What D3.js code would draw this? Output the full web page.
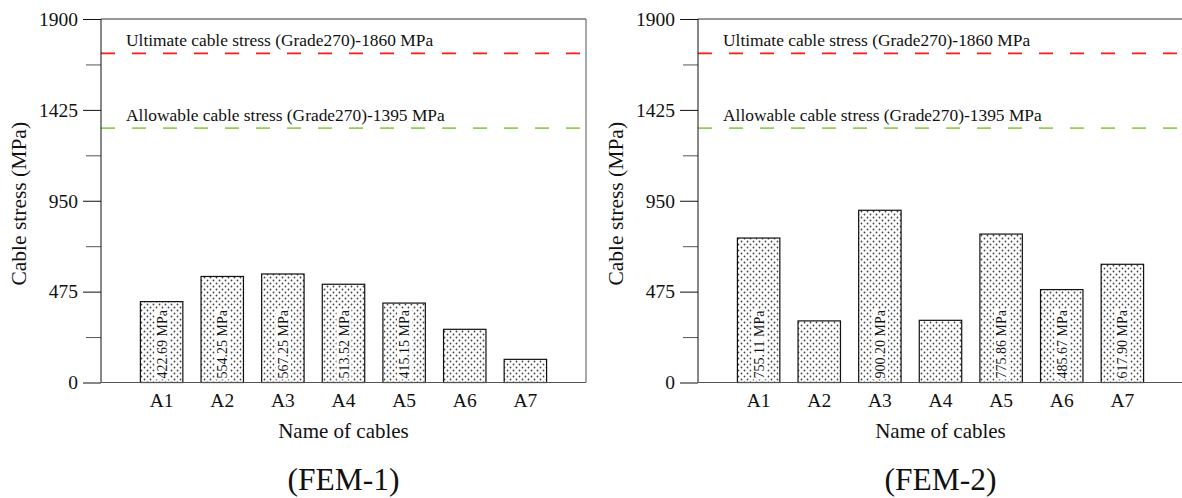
<!DOCTYPE html>
<html>
<head>
<meta charset="utf-8">
<script src="https://cdn.jsdelivr.net/npm/d3@7"></script>
<style>
  body { margin: 0; background: #fff; }
  svg { display: block; }
  svg text { font-family: "Liberation Serif", "Times New Roman", serif; }
</style>
</head>
<body>
<div id="chart"></div>
<script>
// data
const cables = ["A1", "A2", "A3", "A4", "A5", "A6", "A7"];
const fem1Values = [422.69, 554.25, 567.25, 513.52, 415.15, 278, 121];
const fem1Labels = ["422.69 MPa", "554.25 MPa", "567.25 MPa", "513.52 MPa", "415.15 MPa", "", ""];
const fem2Values = [755.11, 322, 900.20, 325, 775.86, 485.67, 617.90];
const fem2Labels = ["755.11 MPa", "", "900.20 MPa", "", "775.86 MPa", "485.67 MPa", "617.90 MPa"];
const majorTicks = [0, 475, 950, 1425, 1900];
const minorTicks = [237.5, 712.5, 1187.5, 1662.5];
const refValues = [1720, 1330];
const refLabels = ["Ultimate cable stress (Grade270)-1860 MPa", "Allowable cable stress (Grade270)-1395 MPa"];
const refColors = ["#ff1a1a", "#92d050"];
const panelTitles = ["(FEM-1)", "(FEM-2)"];

const width = 1182, height = 498;
const plotW = 485, plotTop = 19, plotBottom = 382.5;
const serif = "Liberation Serif, Times New Roman, serif";

const svg = d3.select("#chart").append("svg")
    .attr("width", width)
    .attr("height", height)
    .attr("font-family", serif);

const defs = svg.append("defs");
const pat = defs.append("pattern")
    .attr("id", "dots")
    .attr("patternUnits", "userSpaceOnUse")
    .attr("width", 6)
    .attr("height", 6);
pat.append("rect").attr("width", 6).attr("height", 6).attr("fill", "#fff");
pat.append("circle").attr("cx", 1.5).attr("cy", 1.5).attr("r", 0.9).attr("fill", "#444");
pat.append("circle").attr("cx", 4.5).attr("cy", 4.5).attr("r", 0.9).attr("fill", "#444");

const y = d3.scaleLinear().domain([0, 1900]).range([plotBottom, plotTop]);

function drawPanel(left, values, labels, title) {
    const g = svg.append("g").attr("transform", `translate(${left},0)`);

    const x = d3.scalePoint()
        .domain(cables)
        .range([0, plotW])
        .padding(1);
    const barW = x.step() * 0.7;

    // bars
    g.selectAll("rect.bar")
        .data(values)
        .join("rect")
        .attr("class", "bar")
        .attr("x", (d, i) => x(cables[i]) - barW / 2)
        .attr("y", d => y(d))
        .attr("width", barW)
        .attr("height", d => plotBottom - y(d))
        .attr("fill", "url(#dots)")
        .attr("stroke", "#111")
        .attr("stroke-width", 1.2);

    // value labels inside bars
    const lab = g.selectAll("g.vlab")
        .data(labels.map((t, i) => ({ t, i })).filter(d => d.t))
        .join("g")
        .attr("class", "vlab")
        .attr("transform", d => `translate(${x(cables[d.i]) + 5},${plotBottom - 4}) rotate(-90)`);
    lab.append("rect")
        .attr("x", -1)
        .attr("y", -12)
        .attr("height", 15)
        .attr("fill", "#fff");
    lab.append("text")
        .attr("font-size", 14)
        .attr("fill", "#111")
        .text(d => d.t);
    lab.each(function () {
        const w = d3.select(this).select("text").node().getComputedTextLength();
        d3.select(this).select("rect").attr("width", w + 2);
    });

    // reference lines
    refValues.forEach((v, i) => {
        g.append("line")
            .attr("x1", 0).attr("x2", plotW)
            .attr("y1", y(v)).attr("y2", y(v))
            .attr("stroke", refColors[i])
            .attr("stroke-width", 1.8)
            .attr("stroke-dasharray", "14,17");
        g.append("text")
            .attr("x", 25)
            .attr("y", y(v) - 7)
            .attr("font-size", 17.4)
            .attr("fill", "#111")
            .text(refLabels[i]);
    });

    // y axis
    const yAxis = g.append("g")
        .call(d3.axisLeft(y).tickValues(majorTicks).tickSize(18).tickPadding(5).tickFormat(d3.format("d")));
    yAxis.attr("font-family", serif);
    yAxis.select(".domain").remove();
    yAxis.selectAll("text")
        .attr("font-size", 19.5)
        .attr("fill", "#111");
    yAxis.selectAll("line").attr("stroke", "#111");

    g.append("g")
        .call(d3.axisLeft(y).tickValues(minorTicks).tickSize(15).tickFormat(""))
        .call(a => a.select(".domain").remove())
        .selectAll("line").attr("stroke", "#555");

    // frame
    g.append("line").attr("x1", 0).attr("x2", 0).attr("y1", plotTop).attr("y2", plotBottom).attr("stroke", "#111");
    g.append("line").attr("x1", 0).attr("x2", plotW).attr("y1", plotTop).attr("y2", plotTop).attr("stroke", "#333");
    g.append("line").attr("x1", plotW).attr("x2", plotW).attr("y1", plotTop).attr("y2", plotBottom).attr("stroke", "#555");
    g.append("line").attr("x1", 0).attr("x2", plotW).attr("y1", plotBottom).attr("y2", plotBottom).attr("stroke", "#555");

    // category labels
    g.selectAll("text.cat")
        .data(cables)
        .join("text")
        .attr("class", "cat")
        .attr("x", d => x(d))
        .attr("y", 407)
        .attr("text-anchor", "middle")
        .attr("font-size", 19.5)
        .attr("fill", "#111")
        .text(d => d);

    // axis titles
    g.append("text")
        .attr("x", plotW / 2)
        .attr("y", 438)
        .attr("text-anchor", "middle")
        .attr("font-size", 21)
        .attr("fill", "#111")
        .text("Name of cables");

    g.append("text")
        .attr("transform", `translate(-75,${(plotTop + plotBottom) / 2 + 3}) rotate(-90)`)
        .attr("text-anchor", "middle")
        .attr("font-size", 21.5)
        .attr("fill", "#111")
        .text("Cable stress (MPa)");

    g.append("text")
        .attr("x", plotW / 2)
        .attr("y", 490)
        .attr("text-anchor", "middle")
        .attr("font-size", 31.5)
        .attr("fill", "#111")
        .text(title);
}

drawPanel(101, fem1Values, fem1Labels, panelTitles[0]);
drawPanel(698, fem2Values, fem2Labels, panelTitles[1]);
</script>
</body>
</html>
